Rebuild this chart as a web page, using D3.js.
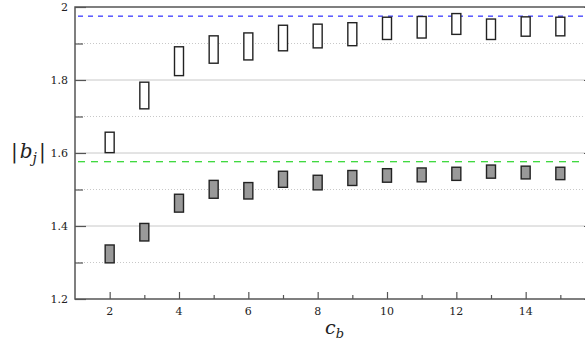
<!DOCTYPE html>
<html>
<head>
<meta charset="utf-8">
<script src="https://cdn.jsdelivr.net/npm/d3@7"></script>
<style>
  body { margin: 0; background: #fff; }
  svg { display: block; overflow: hidden; }
  .tick-label { font-family: "DejaVu Serif", serif; font-size: 11px; fill: #222; }
</style>
</head>
<body>
<div id="vis-container"></div>
<script>
// data
let cb = [2, 3, 4, 5, 6, 7, 8, 9, 10, 11, 12, 13, 14, 15];
let upperLo = [1.601, 1.721, 1.812, 1.846, 1.855, 1.880, 1.888, 1.894, 1.911, 1.915, 1.925, 1.911, 1.920, 1.921];
let upperHi = [1.657, 1.794, 1.891, 1.921, 1.929, 1.950, 1.953, 1.957, 1.972, 1.974, 1.982, 1.967, 1.973, 1.972];
let lowerLo = [1.299, 1.359, 1.438, 1.476, 1.474, 1.506, 1.499, 1.511, 1.520, 1.521, 1.525, 1.531, 1.529, 1.527];
let lowerHi = [1.348, 1.407, 1.487, 1.525, 1.519, 1.550, 1.539, 1.552, 1.557, 1.559, 1.561, 1.567, 1.564, 1.561];
let refBlue = 1.975;
let refGreen = 1.576;
let yMajor = [1.2, 1.4, 1.6, 1.8, 2];
let yMinor = [1.3, 1.5, 1.7, 1.9];
let xMajor = [2, 4, 6, 8, 10, 12, 14];
let xMinor = [3, 5, 7, 9, 11, 13, 15];

let W = 585, H = 345;
let plot = {left: 75, right: 595, top: 7, bottom: 299};

let svg = d3.select("#vis-container")
  .append("svg")
  .attr("width", W)
  .attr("height", H);

let x = d3.scaleLinear().domain([1, 16]).range([plot.left, plot.right]);
let y = d3.scaleLinear().domain([1.2, 2]).range([plot.bottom, plot.top]);

// gridlines
svg.append("g").selectAll("line")
  .data(yMajor.filter(d => d > 1.2 && d < 2))
  .enter().append("line")
  .attr("x1", plot.left).attr("x2", plot.right)
  .attr("y1", d => y(d)).attr("y2", d => y(d))
  .attr("stroke", "#c8c8c8").attr("stroke-width", 1);

svg.append("g").selectAll("line")
  .data(yMinor)
  .enter().append("line")
  .attr("x1", plot.left).attr("x2", plot.right)
  .attr("y1", d => y(d)).attr("y2", d => y(d))
  .attr("stroke", "#c8c8c8").attr("stroke-width", 1)
  .attr("stroke-dasharray", "1,2");

// reference lines
svg.append("line")
  .attr("x1", plot.left + 3).attr("x2", plot.right)
  .attr("y1", y(refBlue)).attr("y2", y(refBlue))
  .attr("stroke", "#0000ff").attr("stroke-width", 1)
  .attr("stroke-dasharray", "5,5");

svg.append("line")
  .attr("x1", plot.left + 3).attr("x2", plot.right)
  .attr("y1", y(refGreen)).attr("y2", y(refGreen))
  .attr("stroke", "#00cc00").attr("stroke-width", 1)
  .attr("stroke-dasharray", "7,6");

// axes
let axisColor = "#555";
let leftAxis = d3.axisRight(y).tickValues(yMajor).tickSize(11).tickFormat("");
let leftMinor = d3.axisRight(y).tickValues(yMinor).tickSize(8).tickFormat("");
let rightAxis = d3.axisLeft(y).tickValues(yMajor).tickSize(11).tickFormat("");
let bottomAxis = d3.axisTop(x).tickValues(xMajor).tickSize(7).tickFormat("");
let bottomMinor = d3.axisTop(x).tickValues(xMinor).tickSize(4).tickFormat("");

function styleAxis(g) {
  g.select(".domain").remove();
  g.selectAll("line").attr("stroke", axisColor).attr("stroke-width", 1.2);
}

svg.append("g").attr("transform", `translate(${plot.left},0)`).call(leftAxis).call(styleAxis);
svg.append("g").attr("transform", `translate(${plot.left},0)`).call(leftMinor).call(styleAxis);
svg.append("g").attr("transform", `translate(${plot.right},0)`).call(rightAxis).call(styleAxis);
svg.append("g").attr("transform", `translate(0,${plot.bottom})`).call(bottomAxis).call(styleAxis);
svg.append("g").attr("transform", `translate(0,${plot.bottom})`).call(bottomMinor).call(styleAxis);

// frame
svg.append("rect")
  .attr("x", plot.left).attr("y", plot.top)
  .attr("width", plot.right - plot.left).attr("height", plot.bottom - plot.top)
  .attr("fill", "none").attr("stroke", axisColor).attr("stroke-width", 1.5);

// tick labels
svg.append("g").selectAll("text")
  .data(yMajor)
  .enter().append("text")
  .attr("class", "tick-label")
  .attr("x", plot.left - 7)
  .attr("y", d => y(d) + 4)
  .attr("text-anchor", "end")
  .text(d => d3.format("~g")(d));

svg.append("g").selectAll("text")
  .data(xMajor)
  .enter().append("text")
  .attr("class", "tick-label")
  .attr("x", d => x(d))
  .attr("y", plot.bottom + 16)
  .attr("text-anchor", "middle")
  .text(d => d);

// boxes
let bw = 9;
let rows = cb.map((c, i) => ({c: c, uLo: upperLo[i], uHi: upperHi[i], lLo: lowerLo[i], lHi: lowerHi[i]}));

svg.append("g").selectAll("rect")
  .data(rows)
  .enter().append("rect")
  .attr("x", d => x(d.c) - bw / 2)
  .attr("y", d => y(d.uHi))
  .attr("width", bw)
  .attr("height", d => y(d.uLo) - y(d.uHi))
  .attr("fill", "#fff")
  .attr("stroke", "#222")
  .attr("stroke-width", 1.4);

svg.append("g").selectAll("rect")
  .data(rows)
  .enter().append("rect")
  .attr("x", d => x(d.c) - bw / 2)
  .attr("y", d => y(d.lHi))
  .attr("width", bw)
  .attr("height", d => y(d.lLo) - y(d.lHi))
  .attr("fill", "#999")
  .attr("stroke", "#222")
  .attr("stroke-width", 1.4);

// axis labels
let yl = svg.append("text")
  .attr("x", 11).attr("y", 158)
  .attr("font-family", "DejaVu Serif, serif")
  .attr("font-size", 20)
  .attr("fill", "#222");
yl.append("tspan").text("|");
yl.append("tspan").attr("dx", 2).attr("font-style", "italic").text("b");
yl.append("tspan").attr("font-style", "italic").attr("font-size", 14).attr("dy", 5).text("j");
yl.append("tspan").attr("dx", 2).attr("dy", -5).text("|");

let xl = svg.append("text")
  .attr("x", 325).attr("y", 334)
  .attr("font-family", "DejaVu Serif, serif")
  .attr("font-size", 19)
  .attr("fill", "#222");
xl.append("tspan").attr("font-style", "italic").text("c");
xl.append("tspan").attr("font-style", "italic").attr("font-size", 13).attr("dy", 4).text("b");
</script>
</body>
</html>
